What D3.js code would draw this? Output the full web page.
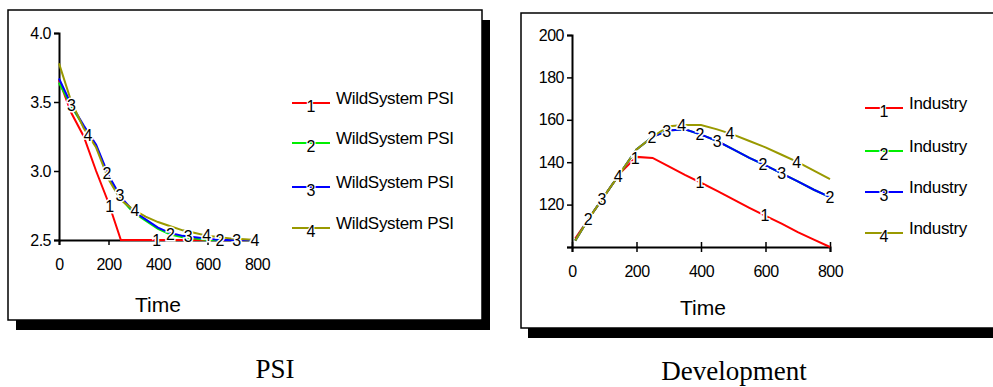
<!DOCTYPE html>
<html><head><meta charset="utf-8">
<script src="https://cdn.jsdelivr.net/npm/d3@7"></script>
<style>
html,body{margin:0;padding:0;background:#fff;overflow:hidden}
svg{display:block}
.tick text{font-family:"Liberation Sans",Arial,sans-serif;font-size:16px;fill:#000}
</style></head>
<body>
<script>
// ---------- DATA ----------
const psiTimes = [0,50,100,150,200,250,300,350,400,450,500,550,600,650,700,750,800];
const psi1 = [3.66,3.42,3.25,3.00,2.77,2.50,2.50,2.50,2.50,2.50,2.50,2.50,2.50,2.50,2.50,2.50,2.50];
const psi2 = [3.64,3.47,3.32,3.18,2.96,2.80,2.70,2.64,2.58,2.54,2.52,2.51,2.50,2.50,2.50,2.50,2.50];
const psi3 = [3.67,3.48,3.33,3.19,2.97,2.81,2.71,2.65,2.59,2.55,2.53,2.52,2.51,2.50,2.50,2.50,2.50];
const psi4 = [3.78,3.50,3.31,3.17,2.94,2.79,2.72,2.67,2.63,2.60,2.57,2.55,2.53,2.52,2.51,2.505,2.50];
const psiLabelTimes = [[205,395],[194,450,650],[50,246,522,718],[117,307,597,792]];
const psiYTicks = [2.5,3.0,3.5,4.0];
const psiYTickLabels = ["2.5","3.0","3.5","4.0"];
const psiLegend = ["WildSystem PSI","WildSystem PSI","WildSystem PSI","WildSystem PSI"];

const devTimes = [10,50,100,150,200,250,300,350,400,450,500,550,600,650,700,750,800];
const dev1 = [104,113,124,135,142.5,142,138,134,130.3,126.5,122.5,118.5,114.7,111,107,103.5,100];
const dev2 = [103,113,124,135,146,152,155,155.5,153,150,146,142,138.5,134.7,131,127,123.5];
const dev3 = [103,113,124,135,146,152,155,155.5,153,150,146,142,138.5,134.7,131,127,123.5];
const dev4 = [103,113,124,135,146,152,157,157.5,157.5,155.5,153,150,147,143.5,140,136,132];
const devLabelTimes = [[196,397,598],[50,248,397,592,800],[93,294,450,650],[143,340,490,697]];
const devYTicks = [100,120,140,160,180,200];
const devYTickLabels = ["","120","140","160","180","200"];
const devLegend = ["Industry","Industry","Industry","Industry"];

const xTicks = [0,200,400,600,800];
const seriesNames = ["1","2","3","4"];
const colors = ["#ff0000","#00ee00","#0000ff","#999900"];
const captions = ["PSI","Development"];
const axisTitle = "Time";

// ---------- DRAW ----------
const W = 993, H = 387;
const svg = d3.select("body").append("svg").attr("width", W).attr("height", H);
const FONT = '"Liberation Sans",Arial,sans-serif';

function panel(x0, y0, x1, y1, sh) {
  svg.append("rect").attr("x", x0 + sh.dx).attr("y", y0 + sh.dy)
    .attr("width", x1 - x0).attr("height", y1 - y0).attr("fill", "#000");
  svg.append("rect").attr("x", x0).attr("y", y0).attr("width", x1 - x0).attr("height", y1 - y0)
    .attr("fill", "#fff").attr("stroke", "#000").attr("stroke-width", 1.5);
}
panel(8, 10, 482, 320, {dx: 8, dy: 10});
panel(521, 13, 1100, 328, {dx: 7, dy: 10});

function chart(cfg) {
  const x = d3.scaleLinear().domain([0, 800]).range(cfg.xr);
  const y = d3.scaleLinear().domain(cfg.yd).range(cfg.yr);
  const g = svg.append("g");
  const ya = g.append("g").attr("transform", `translate(${cfg.xr[0]},0)`)
    .call(d3.axisLeft(y).tickValues(cfg.yTicks).tickSize(5).tickPadding(3)
      .tickFormat((d, i) => cfg.yLabels[i]));
  const xa = g.append("g").attr("transform", `translate(0,${cfg.yr[0]})`)
    .call(d3.axisBottom(x).tickValues(xTicks).tickSize(5).tickPadding(cfg.xPad)
      .tickFormat(d3.format("d")));
  [ya, xa].forEach(a => {
    a.select(".domain").attr("stroke-width", 2);
    a.selectAll(".tick line").attr("stroke-width", 1.5);
  });
  if (cfg.crossTicks) xa.selectAll(".tick line").attr("y1", -5);
  g.selectAll(".tick text").attr("font-family", FONT).attr("font-size", 16).attr("letter-spacing", -0.5);

  const line = d3.line().x((d, i) => x(cfg.times[i])).y(d => y(d));
  cfg.series.forEach((s, k) => {
    g.append("path").attr("d", line(s)).attr("fill", "none")
      .attr("stroke", colors[k]).attr("stroke-width", 2);
  });
  cfg.series.forEach((s, k) => {
    cfg.labelTimes[k].forEach(t => {
      const v = d3.scaleLinear().domain(cfg.times).range(s)(t);
      g.append("text").attr("x", x(t)).attr("y", y(v)).attr("dy", "0.36em")
        .attr("text-anchor", "middle").attr("font-family", FONT).attr("font-size", 16)
        .attr("fill", "#000").attr("stroke", "#fff").attr("stroke-width", 3)
        .attr("paint-order", "stroke").text(seriesNames[k]);
    });
  });
  g.append("text").attr("x", cfg.titleX).attr("y", cfg.titleY).attr("font-family", FONT)
    .attr("font-size", 21).attr("fill", "#000").text(axisTitle);

  // legend
  cfg.legendY.forEach((ly, k) => {
    g.append("line").attr("x1", cfg.legX[0]).attr("x2", cfg.legX[1]).attr("y1", ly).attr("y2", ly)
      .attr("stroke", colors[k]).attr("stroke-width", 2);
    g.append("text").attr("x", (cfg.legX[0] + cfg.legX[1]) / 2).attr("y", ly + 9)
      .attr("text-anchor", "middle").attr("font-family", FONT).attr("font-size", 16)
      .attr("fill", "#000").attr("stroke", "#fff").attr("stroke-width", 2)
      .attr("paint-order", "stroke").text(seriesNames[k]);
    g.append("text").attr("x", cfg.legX[1] + 6).attr("y", ly + 1).attr("font-family", FONT)
      .attr("font-size", cfg.legFont).attr("letter-spacing", -0.3).attr("fill", "#000").text(cfg.legend[k]);
  });
}

chart({
  xr: [59, 257], yd: [2.5, 4.0], yr: [240, 33], yTicks: psiYTicks, yLabels: psiYTickLabels,
  times: psiTimes, series: [psi1, psi2, psi3, psi4], labelTimes: psiLabelTimes,
  xPad: 14, crossTicks: false, titleX: 135, titleY: 312,
  legX: [292, 330], legendY: [103, 143, 187, 228], legend: psiLegend, legFont: 17
});
chart({
  xr: [572, 830], yd: [100, 200], yr: [247, 35], yTicks: devYTicks, yLabels: devYTickLabels,
  times: devTimes, series: [dev1, dev2, dev3, dev4], labelTimes: devLabelTimes,
  xPad: 14, crossTicks: true, titleX: 680, titleY: 315,
  legX: [865, 903], legendY: [108, 151, 192, 233], legend: devLegend, legFont: 17
});

svg.append("text").attr("x", 275).attr("y", 378).attr("text-anchor", "middle")
  .attr("font-family", '"Liberation Serif","Times New Roman",serif').attr("font-size", 27).text(captions[0]);
svg.append("text").attr("x", 734).attr("y", 380).attr("text-anchor", "middle")
  .attr("font-family", '"Liberation Serif","Times New Roman",serif').attr("font-size", 27).text(captions[1]);
</script>
</body></html>
